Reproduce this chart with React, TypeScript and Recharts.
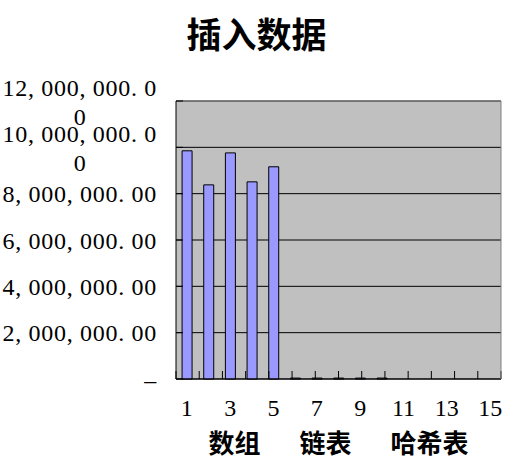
import React from "react";
import { Bar, BarChart, CartesianGrid, XAxis, YAxis } from "recharts";

// 插入数据: insertion time per run (数组 1-5, 链表 6-10, 哈希表 11-15)
const categories = ["1", "2", "3", "4", "5", "6", "7", "8", "9", "10", "11", "12", "13", "14", "15"];
const insertTimes = [
  9850000, 8380000, 9760000, 8510000, 9160000,
  40000, 40000, 40000, 40000, 40000,
  0, 0, 0, 0, 0,
];
const yTicks = [0, 2000000, 4000000, 6000000, 8000000, 10000000, 12000000];
const chartTitle = "插入数据";
const xTitle = "数组\u3000\u2002链表\u3000\u2002哈希表";

const data = categories.map((name, i) => ({ name, value: insertTimes[i] }));
const edgeTicks = [...categories.map((_, i) => i), categories.length];

const serif = "'Liberation Serif', 'Times New Roman', serif";
const cjk = "'Noto Sans CJK SC', sans-serif";

function fmt(v: number) {
  if (v === 0) return "–";
  return v
    .toLocaleString("en-US", { minimumFractionDigits: 2, maximumFractionDigits: 2 })
    .replace(/,/g, ", ")
    .replace(".", ". ");
}

// Excel wraps the long labels and drops the last digit onto a second line
function YTick({ x, y, payload }: any) {
  const s = fmt(payload.value);
  const common = { fontFamily: serif, fontSize: 24, letterSpacing: 0.7, fill: "#000" };
  if (s.length > 15) {
    return (
      <g>
        <text x={x} y={y - 14} dy="0.355em" textAnchor="end" {...common}>
          {s.slice(0, -1)}
        </text>
        <text x={x - 77} y={y + 15} dy="0.355em" textAnchor="middle" {...common}>
          {s.slice(-1)}
        </text>
      </g>
    );
  }
  return (
    <text x={x} y={y} dy="0.355em" textAnchor="end" {...common}>
      {s}
    </text>
  );
}

export default function App() {
  return (
    <div
      style={{
        position: "absolute",
        left: 0,
        top: 0,
        width: 513,
        height: 464,
        background: "#fff",
      }}
    >
      <div
        style={{
          position: "absolute",
          left: 0,
          top: 15,
          width: 513,
          textAlign: "center",
          fontFamily: cjk,
          fontWeight: 700,
          fontSize: 35,
          lineHeight: "35px",
          color: "#000",
        }}
      >
        {chartTitle}
      </div>
      <BarChart
        width={513}
        height={464}
        data={data}
        margin={{ top: 101, right: 12, left: 0, bottom: 0 }}
        barCategoryGap="28%"
      >
        <CartesianGrid vertical={false} stroke="#000" fill="#C0C0C0" fillOpacity={1} />
        <Bar
          dataKey="value"
          fill="#9999FF"
          stroke="#000"
          strokeWidth={1}
          isAnimationActive={false}
        />
        <XAxis
          dataKey="name"
          interval={1}
          tickLine={false}
          axisLine={false}
          tickSize={0}
          tickMargin={20}
          height={85}
          tick={{ fontFamily: serif, fontSize: 24, fill: "#000" }}
          label={{
            value: xTitle,
            position: "insideBottom",
            offset: 11,
            fontFamily: cjk,
            fontSize: 26,
            fontWeight: 700,
            fill: "#000",
          }}
        />
        <XAxis
          xAxisId="edge"
          type="number"
          domain={[0, categories.length]}
          ticks={edgeTicks}
          allowDataOverflow
          mirror
          tickSize={8}
          tickFormatter={() => ""}
          axisLine={{ stroke: "#000" }}
          tickLine={{ stroke: "#000" }}
        />
        <XAxis
          xAxisId="top"
          orientation="top"
          dataKey="name"
          mirror
          tickLine={false}
          tickFormatter={() => ""}
          axisLine={{ stroke: "#808080" }}
        />
        <YAxis
          width={176}
          domain={[0, 12000000]}
          ticks={yTicks}
          tickLine={false}
          axisLine={{ stroke: "#000" }}
          tickSize={0}
          tickMargin={19}
          tick={<YTick />}
        />
        <YAxis
          yAxisId="edge"
          domain={[0, 12000000]}
          ticks={yTicks}
          allowDataOverflow
          mirror
          tickSize={7}
          tickFormatter={() => ""}
          axisLine={false}
          tickLine={{ stroke: "#000" }}
        />
        <YAxis
          yAxisId="right"
          orientation="right"
          domain={[0, 12000000]}
          mirror
          tickLine={false}
          tickFormatter={() => ""}
          axisLine={{ stroke: "#808080" }}
        />
      </BarChart>
    </div>
  );
}
